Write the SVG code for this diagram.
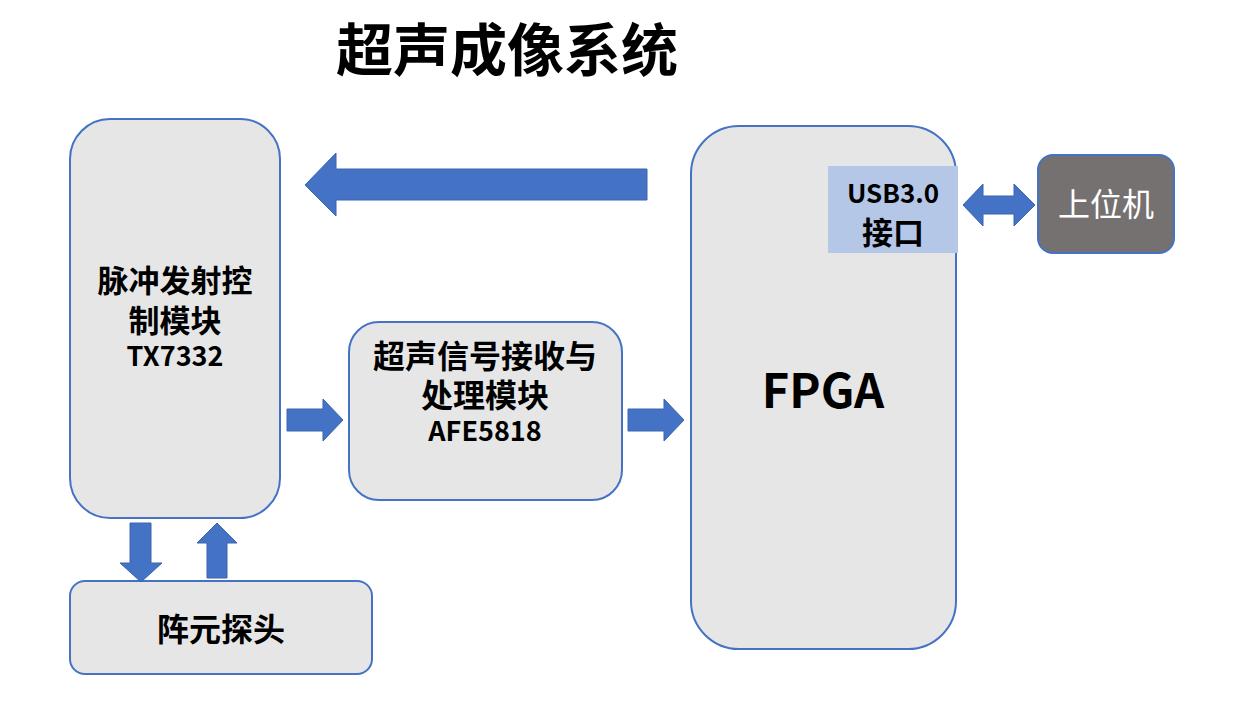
<svg xmlns="http://www.w3.org/2000/svg" width="1237" height="718" viewBox="0 0 1237 718">
<style>
.box{fill:#e7e6e6;stroke:#4472c4;stroke-width:2}
.arr{fill:#4472c4;stroke:#3a64b0;stroke-width:1}
.t{font-family:"Noto Sans CJK SC","Noto Sans",sans-serif;font-weight:bold;fill:#000;text-anchor:middle}
</style>
<rect width="1237" height="718" fill="#fff"/>
<text class="t" x="507" y="71" font-size="57">超声成像系统</text>
<g id="tx">
<rect class="box" x="70" y="119" width="210" height="399" rx="40"/>
<text class="t" x="175" y="292" font-size="31">脉冲发射控</text>
<text class="t" x="175" y="332" font-size="31">制模块</text>
<text class="t" x="175" y="366" font-size="27">TX7332</text>
</g>
<g id="afe">
<rect class="box" x="349" y="322" width="273" height="178" rx="30"/>
<text class="t" x="485" y="368" font-size="32">超声信号接收与</text>
<text class="t" x="485" y="407" font-size="32">处理模块</text>
<text class="t" x="485" y="441" font-size="27">AFE5818</text>
</g>
<g id="fpga">
<rect class="box" x="691" y="126" width="265" height="523" rx="48"/>
<text class="t" x="823" y="408" font-size="47">FPGA</text>
</g>
<g id="usb">
<rect x="828" y="166" width="130" height="87" fill="#b4c7e7"/>
<text class="t" x="893" y="203" font-size="26">USB3.0</text>
<text class="t" x="893" y="244" font-size="31">接口</text>
</g>
<g id="host">
<rect x="1038" y="155" width="136" height="98" rx="15" fill="#767171" stroke="#4472c4" stroke-width="2"/>
<text x="1106" y="216" font-size="32" fill="#fff" text-anchor="middle" font-family="Noto Sans CJK SC,sans-serif">上位机</text>
</g>
<g id="probe">
<rect class="box" x="70" y="581" width="302" height="93" rx="15"/>
<text class="t" x="221" y="641" font-size="32">阵元探头</text>
</g>
<g id="connectors">
<polygon class="arr" points="647,169 336,169 336,153 305,185 336,216 336,200 647,200"/>
<polygon class="arr" points="287,409 323,409 323,399 343,420 323,441 323,431 287,431"/>
<polygon class="arr" points="628,409 664,409 664,399 684,420 664,441 664,431 628,431"/>
<polygon class="arr" points="963,205 983,184 983,196 1014,196 1014,184 1035,205 1014,226 1014,214 983,214 983,226"/>
<polygon class="arr" points="130,523 151,523 151,563 162,563 141,582 120,563 130,563"/>
<polygon class="arr" points="207,578 227,578 227,543 237,543 217,523 197,543 207,543"/>
</g>
</svg>
